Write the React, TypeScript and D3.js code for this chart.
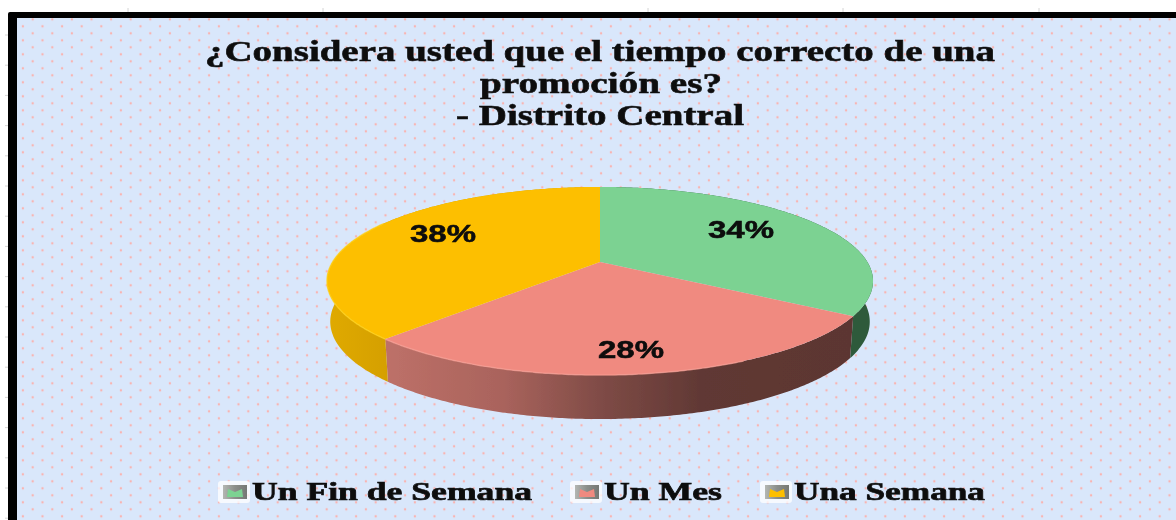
import React, { useMemo } from "react";
import * as d3 from "d3";

const categories = ["Un Fin de Semana", "Un Mes", "Una Semana"];
const values = [34, 28, 38];
const topColors = ["#7bd292", "#f08a80", "#fdbf00"];
const titleLines = [
  "¿Considera usted que el tiempo correcto de una",
  "promoción es?",
  "- Distrito Central",
];
const titleBoxes = [
  { x: 205, w: 790, y: 61 },
  { x: 480, w: 242, y: 93 },
  { x: 456, w: 288, y: 125 },
];
const labelBoxes = [
  { x: 708, y: 238 },
  { x: 598, y: 358 },
  { x: 410, y: 242 },
];
const legendBoxes = [
  { x: 252, w: 280 },
  { x: 604, w: 118 },
  { x: 794, w: 191 },
];
const topTicks = [128, 323, 648, 843, 1039];

const W = 1176;
const H = 520;
const CX = 600;
const CY = 262;
const RX = 267.4;
const RY = 90.2;
const K = 0.202;

type P = [number, number];
const project = (theta: number, r = 1): P => {
  const u = Math.sin(theta) * r;
  const v = -Math.cos(theta) * r;
  const d = 1 - K * v;
  return [CX + (RX * u) / d, CY + (RY * v) / d];
};
const lower = ([x, y]: P): P => [
  CX + (x - CX) * 0.988,
  y + 40 + (4 * (y - CY)) / 113,
];
const arcPts = (a: number, b: number): P[] => {
  const n = Math.max(2, Math.ceil((b - a) / 0.01));
  return d3.range(n + 1).map((i) => project(a + ((b - a) * i) / n));
};
const line = d3.line<P>();

export default function App() {
  const slices = useMemo(() => d3.pie<number>().sort(null)(values), []);
  const leftTicks = d3.range(17).map((i) => 35 + i * 30.2);
  const wallFills = ["#2e5a3b", "url(#redWall)", "url(#yellowWall)"];

  return (
    <svg
      width={W}
      height={H}
      viewBox={`0 0 ${W} ${H}`}
      style={{ position: "absolute", left: 0, top: 0, display: "block", background: "#fff" }}
    >
      <defs>
        <pattern id="dots" width={19.6} height={14} patternUnits="userSpaceOnUse" x={13.1} y={12.3}>
          <circle cx={19.6} cy={7} r={1.2} fill="#f8b4b2" />
          <circle cx={0} cy={7} r={1.2} fill="#f8b4b2" />
          <circle cx={9.8} cy={14} r={1.2} fill="#f8b4b2" />
          <circle cx={9.8} cy={0} r={1.2} fill="#f8b4b2" />
        </pattern>
        <linearGradient id="redWall" gradientUnits="userSpaceOnUse" x1={388} x2={852} y1={0} y2={0}>
          <stop offset={0} stopColor="#bd7068" />
          <stop offset={0.25} stopColor="#a9635c" />
          <stop offset={0.47} stopColor="#7d4a45" />
          <stop offset={0.68} stopColor="#603834" />
          <stop offset={1} stopColor="#5c3631" />
        </linearGradient>
        <linearGradient id="yellowWall" gradientUnits="userSpaceOnUse" x1={326} x2={392} y1={0} y2={0}>
          <stop offset={0} stopColor="#e0aa00" />
          <stop offset={1} stopColor="#d49f00" />
        </linearGradient>
        <linearGradient id="swatchGray" x1={0} x2={1} y1={0} y2={0}>
          <stop offset={0} stopColor="#b4b7b3" />
          <stop offset={0.5} stopColor="#8b8e8a" />
          <stop offset={1} stopColor="#757874" />
        </linearGradient>
        <filter id="soft" x="-2%" y="-2%" width="104%" height="104%">
          <feGaussianBlur stdDeviation={0.6} />
        </filter>
      </defs>

      {topTicks.map((x) => (
        <line key={x} x1={x} x2={x} y1={8} y2={12} stroke="#d4d4d4" strokeWidth={1} />
      ))}
      {leftTicks.map((y) => (
        <line key={y} x1={5} x2={8} y1={y} y2={y} stroke="#d4d4d4" strokeWidth={1} />
      ))}

      <g filter="url(#soft)">
        <rect x={8} y={12} width={W} height={H} rx={2} fill="#000" />
        <rect x={17} y={18} width={W} height={H} fill="#d9e7fb" />
        <rect x={17} y={18} width={W} height={H} fill="url(#dots)" />

        {titleLines.map((t, i) => (
          <text
            key={t}
            x={titleBoxes[i].x}
            y={titleBoxes[i].y}
            textLength={titleBoxes[i].w}
            lengthAdjust="spacingAndGlyphs"
            fontFamily="'Liberation Serif', serif"
            fontWeight="bold"
            fontSize={30}
            fill="#111"
            stroke="#111"
            strokeWidth={0.6}
          >
            {t}
          </text>
        ))}

        {slices.map((s, i) => {
          const top = arcPts(s.startAngle, s.endAngle);
          const bottom = top.map(lower).reverse();
          return <path key={i} d={`${line([...top, ...bottom])}Z`} fill={wallFills[i]} />;
        })}

        {slices.map((s, i) => {
          const top = arcPts(s.startAngle, s.endAngle);
          return <path key={i} d={`${line([[CX, CY], ...top])}Z`} fill={topColors[i]} />;
        })}

        <path
          d={line(arcPts(slices[2].startAngle, slices[2].startAngle + 1.3)) ?? ""}
          fill="none"
          stroke="#ffd21a"
          strokeWidth={1.5}
          opacity={0.7}
        />
        <path
          d={line(arcPts(slices[1].startAngle + 0.55, slices[1].endAngle)) ?? ""}
          fill="none"
          stroke="#f89d92"
          strokeWidth={1.5}
          opacity={0.7}
        />

        {values.map((v, i) => (
          <text
            key={i}
            x={labelBoxes[i].x}
            y={labelBoxes[i].y}
            textLength={66}
            lengthAdjust="spacingAndGlyphs"
            fontFamily="'Liberation Sans', sans-serif"
            fontWeight="bold"
            fontSize={24}
            fill="#0a0a0a"
            stroke="#0a0a0a"
            strokeWidth={0.5}
          >
            {`${v}%`}
          </text>
        ))}

        {categories.map((c, i) => {
          const b = legendBoxes[i];
          const sx = b.x - 34;
          return (
            <g key={c}>
              <rect x={sx} y={481} width={32} height={22} rx={3} fill="#fff" opacity={0.75} />
              <rect x={sx + 5} y={485} width={24} height={14} fill="url(#swatchGray)" />
              <polygon
                points={[
                  [sx + 10, 489],
                  [sx + 17, 492],
                  [sx + 24, 489],
                  [sx + 25, 497],
                  [sx + 9, 497],
                ]
                  .map((p) => p.join(","))
                  .join(" ")}
                fill={topColors[i]}
              />
              <text
                x={b.x}
                y={500}
                textLength={b.w}
                lengthAdjust="spacingAndGlyphs"
                fontFamily="'Liberation Serif', serif"
                fontWeight="bold"
                fontSize={26}
                fill="#111"
                stroke="#111"
                strokeWidth={0.7}
              >
                {c}
              </text>
            </g>
          );
        })}
      </g>
    </svg>
  );
}
